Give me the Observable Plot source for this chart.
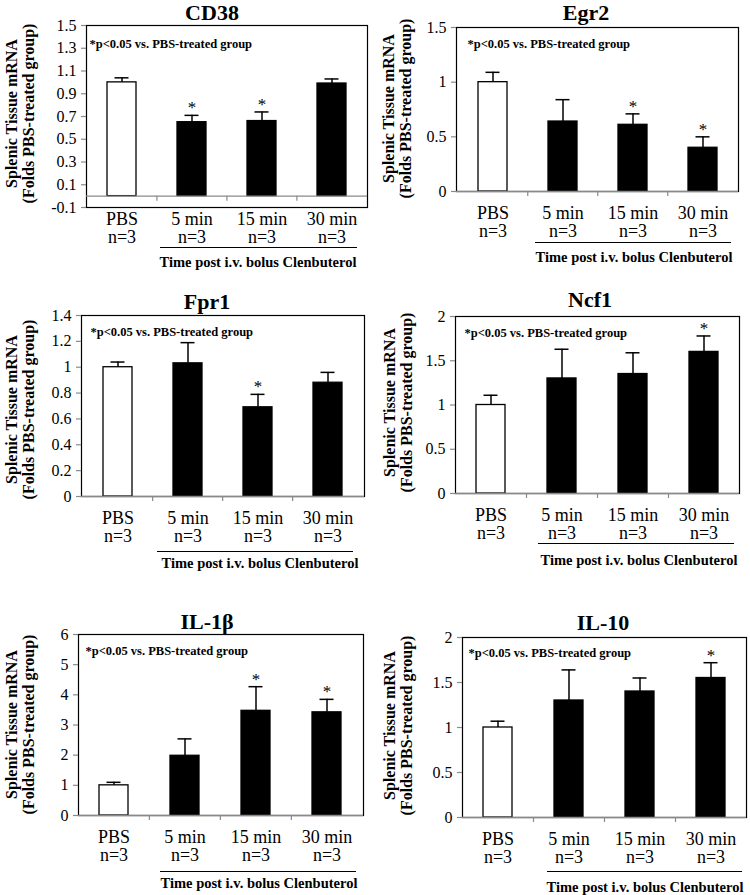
<!DOCTYPE html>
<html><head><meta charset="utf-8">
<script src="https://cdn.jsdelivr.net/npm/d3@7"></script>
<script src="https://cdn.jsdelivr.net/npm/@observablehq/plot@0.6"></script>
<style>
body{margin:0;background:#fff;}
#root{position:relative;width:750px;height:895px;overflow:hidden;font-family:"Liberation Serif","Times New Roman",serif;color:#000;background:#fff;}
.panel{position:absolute;width:375px;}
.panel svg{font-family:"Liberation Serif","Times New Roman",serif !important;}
.title{position:absolute;font-weight:bold;font-size:22px;line-height:1;transform:translate(-50%,-50%);white-space:nowrap;}
.cap{position:absolute;font-weight:bold;font-size:14.5px;line-height:1;transform:translate(-50%,-50%);white-space:nowrap;}
.uline{position:absolute;height:0;border-top:1.3px solid #000;}
</style></head><body><div id="root"></div>
<script>
// ---- data ----
const categories = ["PBS", "5 min", "15 min", "30 min"];
const groupSizes = ["n=3", "n=3", "n=3", "n=3"];
const genes = ["CD38", "Egr2", "Fpr1", "Ncf1", "IL-1β", "IL-10"];

const cd38Mean = [1.00, 0.65, 0.66, 0.99];
const cd38Err  = [0.04, 0.06, 0.08, 0.04];
const cd38Sig  = [false, true, true, false];

const egr2Mean = [1.00, 0.64, 0.61, 0.40];
const egr2Err  = [0.09, 0.20, 0.10, 0.10];
const egr2Sig  = [false, false, true, true];

const fpr1Mean = [1.00, 1.03, 0.69, 0.88];
const fpr1Err  = [0.04, 0.16, 0.10, 0.08];
const fpr1Sig  = [false, false, true, false];

const ncf1Mean = [1.00, 1.30, 1.35, 1.60];
const ncf1Err  = [0.11, 0.33, 0.24, 0.18];
const ncf1Sig  = [false, false, false, true];

const il1bMean = [1.00, 1.98, 3.47, 3.42];
const il1bErr  = [0.10, 0.56, 0.80, 0.43];
const il1bSig  = [false, false, true, true];

const il10Mean = [1.00, 1.30, 1.40, 1.55];
const il10Err  = [0.07, 0.34, 0.15, 0.17];
const il10Sig  = [false, false, false, true];

const cd38Ticks = [-0.1, 0.1, 0.3, 0.5, 0.7, 0.9, 1.1, 1.3, 1.5];
const egr2Ticks = [0, 0.5, 1, 1.5];
const fpr1Ticks = [0, 0.2, 0.4, 0.6, 0.8, 1, 1.2, 1.4];
const ncf1Ticks = [0, 0.5, 1, 1.5, 2];
const il1bTicks = [0, 1, 2, 3, 4, 5, 6];
const il10Ticks = [0, 0.5, 1, 1.5, 2];

const yLabel = "Splenic Tissue mRNA\n(Folds PBS-treated group)";
const noteText = "*p<0.05 vs. PBS-treated group";
const xCaption = "Time post i.v. bolus Clenbuterol";

const means = [cd38Mean, egr2Mean, fpr1Mean, ncf1Mean, il1bMean, il10Mean];
const errs  = [cd38Err, egr2Err, fpr1Err, ncf1Err, il1bErr, il10Err];
const sigs  = [cd38Sig, egr2Sig, fpr1Sig, ncf1Sig, il1bSig, il10Sig];
const ticks = [cd38Ticks, egr2Ticks, fpr1Ticks, ncf1Ticks, il1bTicks, il10Ticks];

// ---- layout (page pixels) ----
const FONT = "Liberation Serif";
const frames = [
  {L: 86, R: 367, T: 25, B: 207},
  {L: 456, R: 738, T: 27, B: 191},
  {L: 81, R: 364, T: 315, B: 496},
  {L: 455, R: 739, T: 316, B: 493},
  {L: 78, R: 363, T: 634, B: 815},
  {L: 462, R: 746, T: 637, B: 817}
];
const titlePos = [[212, 13], [586, 13], [207, 302], [590, 300], [207, 622], [603, 623]];
const ulinePos = [[160, 357, 247], [535, 731, 242], [157, 353, 551], [538, 734, 543], [160, 356, 871], [547, 742, 871]];
const capPos = [[258, 262], [634, 257], [260, 563], [639, 560], [259, 883], [645, 887]];
const labelPos = [[20, 113], [397, 108], [20, 409], [398, 402], [20, 724], [398, 725]];
const notePos = [[3, 18], [11, 16], [9, 16], [9, 16], [7, 16], [6, 15]];

const root = document.getElementById("root");

for (let i = 0; i < 6; i++) {
  const f = frames[i];
  const x0 = (i % 2) * 375;
  const top = f.T - 25;
  const bottom = f.B + 55;
  const data = categories.map((c, j) => ({
    cat: c, size: groupSizes[j], mean: means[i][j], err: errs[i][j],
    hi: means[i][j] + errs[i][j], sig: sigs[i][j]
  }));
  const step = (f.R - f.L) / categories.length;
  const yt = ticks[i];
  const chart = Plot.plot({
    width: 375,
    height: bottom - top,
    marginLeft: f.L - x0,
    marginRight: x0 + 375 - f.R,
    marginTop: f.T - top,
    marginBottom: bottom - f.B,
    style: {fontFamily: FONT, fontSize: "16px", color: "#000", background: "transparent"},
    x: {domain: categories, paddingInner: 0.59, paddingOuter: 0.295, label: null},
    y: {domain: [yt[0], yt[yt.length - 1]], label: null},
    marks: [
      Plot.frame({stroke: "#000", strokeWidth: 1.2}),
      Plot.barY(data, {filter: d => d.cat === "PBS", x: "cat", y: "mean", fill: "#fff", stroke: "#000", strokeWidth: 1.3}),
      Plot.barY(data, {filter: d => d.cat !== "PBS", x: "cat", y: "mean", fill: "#000", stroke: "#000", strokeWidth: 1.3}),
      Plot.ruleX(data, {x: "cat", y1: "mean", y2: "hi", stroke: "#000", strokeWidth: 1.5}),
      Plot.tickY(data, {x: "cat", y: "hi", stroke: "#000", strokeWidth: 1.5, insetLeft: 7.5, insetRight: 7.5}),
      Plot.text(data, {filter: d => d.sig, x: "cat", y: "hi", text: () => "*", lineAnchor: "bottom", dy: -2,
        fontSize: 17, fontFamily: FONT, fill: "#000"}),
      Plot.ruleY([0], {stroke: "#8a8a8a", strokeWidth: 1.3}),
      Plot.ruleX(categories.slice(1), {x: d => d, y1: 0, y2: 0, dx: -step / 2, insetBottom: -5, stroke: "#8a8a8a", strokeWidth: 1.2}),
      Plot.axisY({ticks: yt, tickSize: 5, tickPadding: 5, tickFormat: d => String(d), stroke: "#8a8a8a", fill: "#000",
        line: true, strokeWidth: 1.2, fontSize: 16, fontFamily: FONT}),
      Plot.axisX({tickSize: 0, tickPadding: i === 0 ? 5 : 15, lineHeight: 1, fill: "#000", fontFamily: FONT,
        tickFormat: d => d + "\n" + groupSizes[categories.indexOf(d)], fontSize: 18}),
      Plot.text([noteText], {frameAnchor: "top-left", dx: notePos[i][0], dy: notePos[i][1], textAnchor: "start",
        lineAnchor: "middle", fontWeight: "bold", fontSize: 12.5, fontFamily: FONT, fill: "#000", text: d => d}),
      Plot.text([yLabel], {frameAnchor: "left", rotate: -90, textAnchor: "middle", lineAnchor: "middle",
        dx: labelPos[i][0] - f.L, dy: labelPos[i][1] - (f.T + f.B) / 2,
        fontWeight: "bold", fontSize: 16, lineHeight: 1.06, fontFamily: FONT, fill: "#000", text: d => d})
    ]
  });
  const holder = document.createElement("div");
  holder.className = "panel";
  holder.style.left = x0 + "px";
  holder.style.top = top + "px";
  holder.appendChild(chart);
  root.appendChild(holder);
}

for (let i = 0; i < 6; i++) {
  const t = document.createElement("div");
  t.className = "title";
  t.textContent = genes[i];
  t.style.left = titlePos[i][0] + "px";
  t.style.top = titlePos[i][1] + "px";
  root.appendChild(t);

  const u = document.createElement("div");
  u.className = "uline";
  u.style.left = ulinePos[i][0] + "px";
  u.style.width = (ulinePos[i][1] - ulinePos[i][0]) + "px";
  u.style.top = ulinePos[i][2] + "px";
  root.appendChild(u);

  const c = document.createElement("div");
  c.className = "cap";
  c.textContent = xCaption;
  c.style.left = capPos[i][0] + "px";
  c.style.top = capPos[i][1] + "px";
  root.appendChild(c);
}
</script></body></html>
